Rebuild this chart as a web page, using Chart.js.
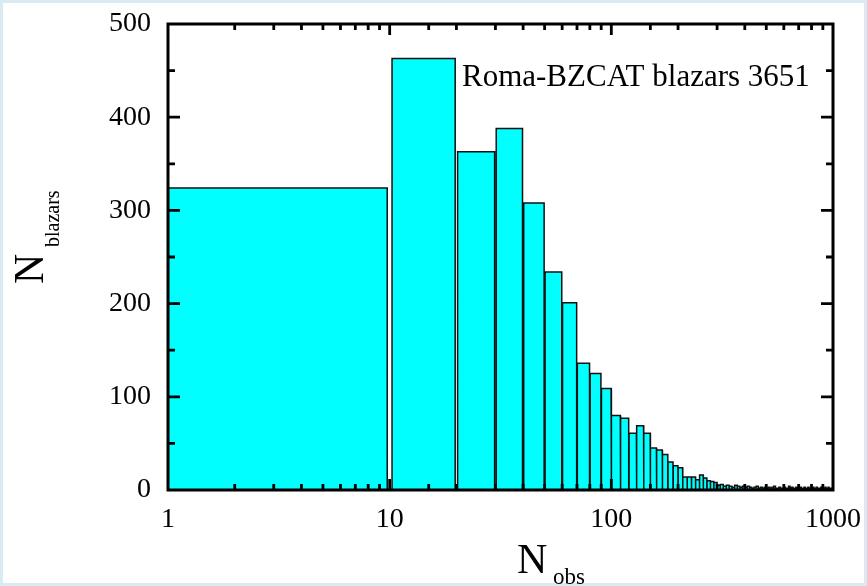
<!DOCTYPE html>
<html>
<head>
<meta charset="utf-8">
<script src="https://cdn.jsdelivr.net/npm/chart.js@4"></script>
<style>
  body { margin: 0; background: #fff; }
  #wrap { width: 867px; height: 586px; }
</style>
</head>
<body>
<div id="wrap"><canvas id="hist" width="867" height="586"></canvas></div>
<script>
  // bin edges of the histogram (N_obs)
  const binEdges = [1, 10, 20, 30, 40, 50, 60, 70, 80, 90,
    100, 110, 120, 130, 140, 150, 160, 170, 180, 190,
    200, 210, 220, 230, 240, 250, 260, 270, 280, 290,
    300, 310, 320, 330, 340, 350, 360, 370, 380, 390,
    400, 410, 420, 430, 440, 450, 460, 470, 480, 490,
    500, 510, 520, 530, 540, 550, 560, 570, 580, 590,
    600, 610, 620, 630, 640, 650, 660, 670, 680, 690,
    700, 710, 720, 730, 740, 750, 760, 770, 780, 790,
    800, 810, 820, 830, 840, 850, 860, 870, 880, 890,
    900, 910, 920, 930, 940, 950, 960, 970, 980, 990, 1000];

  // number of blazars per bin
  const blazarCounts = [324, 463, 363, 388, 308, 234, 201, 136, 125, 109,
    80, 77, 61, 69, 61, 45, 43, 38, 30, 26,
    24, 14, 14, 14, 11, 16, 13, 10, 9, 8,
    5, 6, 4, 5, 4, 3, 5, 4, 3, 4,
    3, 4, 3, 2, 3, 4, 2, 3, 2, 3,
    2, 3, 2, 3, 4, 2, 2, 3, 2, 2,
    3, 2, 2, 4, 2, 3, 2, 2, 3, 2,
    2, 3, 2, 2, 3, 2, 2, 3, 2, 2,
    2, 3, 2, 2, 3, 2, 2, 2, 3, 2,
    2, 2, 3, 2, 2, 3, 2, 2, 2, 3];

  const yTicks = [0, 100, 200, 300, 400, 500];
  const xTickLabels = [1, 10, 100, 1000];
  const annotation = 'Roma-BZCAT blazars 3651';

  const GAP = 0.25;
  const SERIF = '"Liberation Serif", "Times New Roman", serif';

  // build the histogram outline as a closed step path
  function buildOutline() {
    const pts = [];
    for (let i = 0; i < blazarCounts.length; i++) {
      const left = i === 0 ? binEdges[0] : binEdges[i] + GAP;
      const right = binEdges[i + 1] - GAP;
      pts.push({ x: left, y: 0 });
      pts.push({ x: left, y: blazarCounts[i] });
      pts.push({ x: right, y: blazarCounts[i] });
      pts.push({ x: right, y: 0 });
    }
    return pts;
  }

  function isPow10(v) {
    const l = Math.log10(v);
    return Math.abs(l - Math.round(l)) < 1e-9;
  }

  const framePlugin = {
    id: 'frame',
    beforeDraw(chart) {
      const ctx = chart.ctx;
      ctx.save();
      ctx.fillStyle = '#fff';
      ctx.fillRect(0, 0, chart.width, chart.height);
      ctx.strokeStyle = '#d8eaf2';
      ctx.lineWidth = 3;
      ctx.strokeRect(1.5, 1.5, chart.width - 3, chart.height - 3);
      ctx.restore();
    },
    afterDraw(chart) {
      const ctx = chart.ctx;
      const a = chart.chartArea;
      const xs = chart.scales.x;
      const ys = chart.scales.y;
      ctx.save();
      ctx.strokeStyle = '#000';
      ctx.lineWidth = 2.8;
      ctx.lineCap = 'butt';
      ctx.beginPath();
      xs.ticks.forEach(t => {
        const px = xs.getPixelForValue(t.value);
        if (px < a.left + 1 || px > a.right - 1) return;
        const len = isPow10(t.value) ? 11 : 6;
        ctx.moveTo(px, a.bottom); ctx.lineTo(px, a.bottom - len);
        ctx.moveTo(px, a.top); ctx.lineTo(px, a.top + len);
      });
      ys.ticks.forEach(t => {
        const py = ys.getPixelForValue(t.value);
        if (py < a.top + 1 || py > a.bottom - 1) return;
        const len = yTicks.includes(t.value) ? 12 : 7;
        ctx.moveTo(a.left, py); ctx.lineTo(a.left + len, py);
        ctx.moveTo(a.right, py); ctx.lineTo(a.right - len, py);
      });
      ctx.stroke();
      ctx.lineWidth = 3;
      ctx.strokeRect(a.left, a.top, a.right - a.left, a.bottom - a.top);

      // annotation
      ctx.fillStyle = '#000';
      ctx.textBaseline = 'alphabetic';
      ctx.textAlign = 'left';
      ctx.font = '31px ' + SERIF;
      ctx.fillText(annotation, 462, 86);

      // x title: N_obs
      ctx.font = '42px ' + SERIF;
      ctx.fillText('N', 517, 573);
      ctx.font = '23px ' + SERIF;
      ctx.fillText('obs', 553, 584);

      // y title: N_blazars (rotated)
      ctx.translate(43, 284);
      ctx.rotate(-Math.PI / 2);
      ctx.font = '42px ' + SERIF;
      ctx.fillText('N', 0, 0);
      ctx.font = '20px ' + SERIF;
      ctx.fillText('blazars', 37, 16);
      ctx.restore();
    }
  };

  window.onload = () => {
    const ctx = document.getElementById('hist').getContext('2d');
    new Chart(ctx, {
      type: 'line',
      data: {
        datasets: [{
          label: 'Roma-BZCAT blazars',
          data: buildOutline(),
          borderColor: '#111',
          borderWidth: 1.5,
          backgroundColor: '#00ffff',
          fill: 'origin',
          tension: 0,
          pointRadius: 0,
        }]
      },
      options: {
        responsive: false,
        animation: false,
        events: [],
        layout: { padding: { left: 0, top: 24, right: 34, bottom: 0 } },
        plugins: {
          legend: { display: false },
          tooltip: { enabled: false },
        },
        scales: {
          x: {
            type: 'logarithmic',
            min: 1,
            max: 1000,
            grid: { display: false, drawTicks: false },
            border: { display: false },
            afterFit: s => { s.height = 96; s.paddingLeft = 0; s.paddingRight = 0; },
            ticks: {
              autoSkip: false,
              maxRotation: 0,
              padding: 13,
              color: '#000',
              font: { family: SERIF, size: 28 },
              callback: v => (isPow10(v) && xTickLabels.includes(Math.round(v)) ? String(Math.round(v)) : ''),
            },
          },
          y: {
            min: 0,
            max: 500,
            grid: { display: false, drawTicks: false },
            border: { display: false },
            afterFit: s => { s.width = 168; s.paddingTop = 0; s.paddingBottom = 0; },
            ticks: {
              stepSize: 50,
              padding: 17,
              color: '#000',
              font: { family: SERIF, size: 28 },
              callback: v => (yTicks.includes(v) ? String(v) : ''),
            },
          },
        },
      },
      plugins: [framePlugin],
    });
  };
</script>
</body>
</html>
